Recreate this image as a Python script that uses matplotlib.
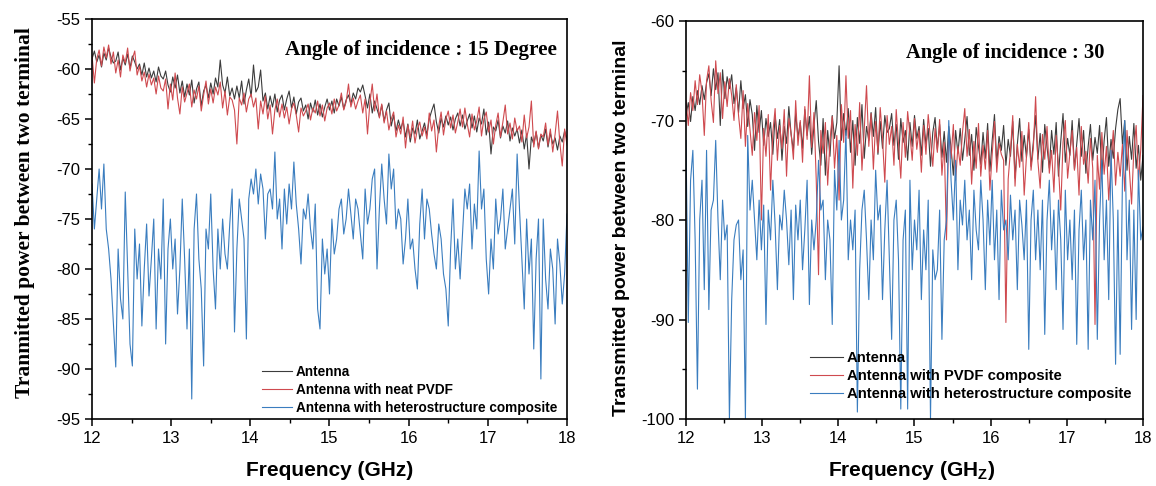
import numpy as np
import matplotlib
matplotlib.use("Agg")
import matplotlib.pyplot as plt

plt.rcParams["font.family"] = ["Liberation Sans", "DejaVu Sans"]
plt.rcParams["axes.unicode_minus"] = False
plt.rcParams["mathtext.fontset"] = "custom"
plt.rcParams["mathtext.rm"] = "Liberation Sans:bold"
plt.rcParams["mathtext.bf"] = "Liberation Sans:bold"

# frequency grid (GHz), same for both panels
freq = np.linspace(12, 18, 201)

# 15 degree panel
ant15 = [
    -59.0, -58.2, -59.3, -58.6, -59.8, -58.4, -59.1, -57.9, -58.8, -59.4,
    -59.2, -58.3, -60.1, -58.9, -59.6, -58.5, -59.9, -58.7, -59.3, -60.0,
    -59.5, -60.6, -59.4, -60.8, -59.9, -60.9, -60.2, -61.3, -59.8, -60.7,
    -61.0, -60.2, -61.6, -62.3, -60.8, -61.9, -60.6, -62.4, -61.2, -62.8,
    -61.5, -62.6, -61.1, -63.4, -62.0, -61.3, -63.7, -62.2, -61.6, -62.9,
    -61.4, -62.5, -60.9, -61.8, -59.1, -61.6, -62.4, -60.8, -62.7, -61.9,
    -63.0, -61.7, -62.9, -61.2, -63.5, -62.1, -61.0, -62.8, -59.6, -62.3,
    -61.8, -60.1, -63.2, -62.4, -64.0, -62.7, -63.8, -62.5, -64.3, -63.1,
    -62.6, -64.1, -63.0, -62.2, -63.9, -62.8, -64.5, -63.3, -62.9, -64.2,
    -63.6, -65.0, -63.4, -64.3, -63.1, -64.6, -63.5, -64.8, -63.8, -63.0,
    -64.1, -63.2, -64.4, -63.0, -63.7, -62.8, -64.0, -63.1, -62.6, -63.5,
    -62.4, -63.0, -61.9, -62.3, -61.6, -62.7, -63.9, -62.5, -64.4, -63.2,
    -64.0, -64.8, -63.6, -65.2, -64.1, -63.4, -65.7, -64.6, -66.2, -65.1,
    -66.0, -65.2, -66.8, -65.5, -67.3, -65.9, -66.5, -65.1, -67.0, -66.2,
    -65.4, -66.6, -65.0, -64.2, -63.5, -65.3, -66.4, -64.9, -65.8, -64.7,
    -65.6, -64.8, -66.1, -65.0, -64.4, -65.7, -64.6, -66.0, -65.2, -64.5,
    -65.9, -64.7, -66.3, -64.9, -65.5, -64.0, -66.6, -65.3, -68.5, -65.8,
    -66.2, -65.1, -66.9, -65.7, -66.4, -65.2, -67.2, -65.9, -66.7, -66.0,
    -67.4, -66.1, -68.0, -66.5, -70.0, -66.8, -67.5, -66.3, -67.9, -66.6,
    -67.2, -66.0, -67.8, -66.4, -67.5, -66.9, -68.1, -66.7, -67.3, -66.2,
    -67.0,
]
pvdf15 = [
    -58.6, -61.4, -59.0, -58.1, -59.7, -57.8, -58.9, -57.6, -59.5, -58.3,
    -60.4, -59.1, -60.8, -58.6, -59.4, -57.9, -60.2, -59.0, -58.2, -60.6,
    -59.7, -61.2, -60.3, -61.8, -60.5, -61.6, -60.9, -62.5, -60.7, -61.9,
    -62.2, -61.0, -64.0, -61.5, -63.1, -60.4, -62.9, -64.5, -61.8, -63.3,
    -62.4, -61.5, -63.8, -62.1, -63.0, -61.7, -64.2, -62.6, -61.2, -63.5,
    -62.0, -63.4, -61.8, -62.6, -61.3, -63.9, -62.2, -64.6, -62.8, -63.1,
    -64.1, -67.5, -62.9, -63.6, -62.4, -64.3, -63.0, -62.5, -63.8, -62.9,
    -66.0, -63.2, -64.5, -62.7, -65.0, -63.6, -66.5, -64.1, -63.0, -64.8,
    -63.5, -64.9, -63.8, -65.5, -64.0, -63.4, -64.6, -66.3, -63.9, -64.7,
    -64.2, -63.5, -65.1, -63.9, -64.4, -63.2, -64.7, -63.6, -65.2, -63.9,
    -63.4, -64.5, -63.0, -64.2, -63.6, -62.4, -64.1, -63.3, -61.5, -63.8,
    -62.9, -64.0, -63.2, -62.6, -64.4, -63.0, -66.5, -63.4, -61.5, -64.2,
    -62.5, -64.9, -63.5, -65.4, -64.2, -66.1, -65.0, -64.3, -66.8, -65.6,
    -66.5, -64.8, -67.9, -65.6, -66.9, -65.2, -67.4, -66.0, -65.3, -66.7,
    -65.8, -67.0, -64.4, -66.2, -65.1, -68.3, -65.7, -64.3, -66.6, -65.0,
    -64.2, -65.9, -64.6, -66.4, -65.3, -64.0, -65.8, -63.9, -65.5, -66.8,
    -64.5, -66.1, -65.2, -63.8, -66.7, -65.0, -64.3, -66.3, -65.1, -67.5,
    -65.6, -64.4, -66.8, -65.3, -63.6, -66.5, -65.4, -67.0, -64.9, -66.2,
    -65.7, -67.3, -64.6, -66.9, -65.8, -63.2, -67.8, -66.2, -68.0, -66.5,
    -66.8, -65.4, -67.6, -66.0, -68.3, -66.5, -64.2, -67.4, -69.7, -66.0,
    -67.6,
]
hetero15 = [
    -71.5, -76.0, -73.0, -70.0, -74.0, -69.5, -76.0, -78.0, -81.0, -85.3,
    -89.8, -78.0, -83.0, -85.0, -72.3, -80.0, -87.5, -89.7, -76.0, -81.0,
    -77.5, -85.7, -80.0, -75.5, -82.7, -79.0, -75.0, -86.0, -78.0, -81.0,
    -73.0, -87.5, -78.0, -75.0, -80.0, -77.0, -84.5, -80.0, -73.0, -79.0,
    -86.0, -78.0, -93.0, -76.0, -72.5, -79.0, -82.0, -89.7, -76.0, -78.0,
    -72.5, -80.0, -84.0, -76.0, -80.0, -75.0, -78.5, -80.0, -75.5, -72.0,
    -86.3, -78.0, -73.0, -75.0, -77.0, -87.0, -73.0, -71.0, -72.5, -70.0,
    -73.5, -70.5, -72.0, -77.0, -72.5, -72.0, -74.0, -68.3, -75.0, -73.0,
    -78.0, -72.0, -75.5, -71.5, -74.0, -69.3, -73.5, -76.0, -79.5, -74.0,
    -75.0, -72.5, -76.0, -78.0, -73.5, -84.0, -86.0, -77.0, -80.5, -78.0,
    -82.5, -75.0, -78.5, -77.0, -74.0, -73.0, -76.5, -75.0, -72.0, -74.5,
    -77.0, -73.0, -74.0, -76.5, -79.0, -72.0, -75.5, -74.0, -71.0, -70.0,
    -80.0, -74.0, -69.5, -73.0, -75.5, -68.5, -72.0, -70.0, -76.0, -74.0,
    -75.0, -79.5, -77.0, -73.0, -78.0, -77.0, -80.0, -82.0, -75.5, -72.0,
    -77.0, -73.0, -74.0, -76.5, -78.5, -80.0, -75.5, -77.0, -80.5, -82.0,
    -85.7, -78.0, -73.0, -80.0, -77.0, -81.0, -76.5, -72.0, -74.0, -71.5,
    -78.0, -73.5, -76.0, -68.2, -74.0, -72.0, -79.0, -82.5, -77.0, -80.0,
    -73.0, -76.5, -75.0, -72.0, -78.0, -76.0, -74.0, -72.0, -77.5, -68.5,
    -74.0, -79.0, -84.0, -75.0, -80.5, -77.0, -88.0, -79.0, -75.0, -91.0,
    -75.0, -81.0, -84.0, -78.0, -80.0, -85.5, -77.0, -79.5, -83.5, -80.5,
    -74.5,
]

# 30 degree panel
ant30 = [
    -69.5, -68.2, -70.1, -67.6, -69.0, -67.0, -68.4, -66.5, -67.9, -66.2,
    -65.3, -67.5, -64.8, -66.9, -65.2, -70.5, -64.9, -67.8, -65.6, -66.8,
    -65.4, -68.3, -66.7, -69.2, -66.0, -68.8, -67.4, -70.6, -67.9, -69.4,
    -73.0, -68.5, -71.2, -69.0, -72.5, -69.8, -71.6, -70.2, -73.4, -69.5,
    -71.8, -69.9, -74.0, -70.6, -72.3, -68.6, -71.4, -73.0, -69.3, -71.7,
    -70.2, -72.8, -68.9, -71.5, -69.6, -73.4, -70.5, -68.0, -72.1, -74.5,
    -69.8, -75.5, -71.0, -73.6, -69.5, -71.8, -70.2, -64.5, -72.0, -69.3,
    -71.5, -68.8, -73.2, -70.0, -74.5, -69.7, -72.3, -68.4, -73.8, -70.6,
    -72.0, -69.2, -71.6, -68.7, -73.4, -70.1, -72.8, -69.5, -71.2, -70.8,
    -69.3, -72.5, -70.4, -73.9, -69.8, -72.2, -71.0, -74.0, -70.2, -72.6,
    -69.5, -71.8, -70.6, -73.5, -69.9, -72.4, -70.8, -74.6, -71.2, -69.7,
    -72.9, -70.4, -73.7, -71.1, -74.2, -70.6, -72.8, -75.5, -71.0, -73.3,
    -70.8, -74.0, -71.9, -69.6, -73.5, -71.4, -75.0, -70.7, -72.6, -74.4,
    -71.2, -73.8, -70.3, -75.1, -72.0, -69.4, -74.3, -71.6, -73.0, -70.5,
    -74.5, -71.9, -73.6, -70.1, -75.8, -72.4, -69.8, -74.1, -71.5, -73.7,
    -70.9, -74.6, -72.2, -69.5, -73.9, -71.3, -75.2, -70.4, -72.7, -74.8,
    -71.0, -73.4, -70.2, -75.6, -72.1, -69.3, -74.2, -71.8, -73.5, -70.0,
    -74.9, -72.3, -69.8, -73.6, -71.0, -75.3, -72.6, -70.4, -74.0, -71.7,
    -73.3, -70.5, -75.4, -72.0, -69.7, -74.6, -71.9, -73.8, -70.8, -68.9,
    -67.8, -72.4, -70.0, -75.0, -71.6, -73.9, -70.3, -74.8, -72.5, -76.0,
    -73.5,
]
pvdf30 = [
    -68.0, -70.5, -67.2, -69.0, -66.0, -68.4, -65.4, -67.2, -71.5, -66.0,
    -64.5, -68.0, -70.2, -64.0, -67.3, -65.2, -69.8, -66.1, -68.6, -65.8,
    -67.5, -70.0, -66.4, -69.5, -71.8, -67.0, -72.6, -68.3, -70.9, -73.5,
    -69.2, -72.0, -68.5, -80.0, -70.8, -73.6, -69.4, -77.0, -71.2, -68.8,
    -74.0, -70.5, -72.8, -68.9, -75.6, -69.8, -71.3, -73.9, -68.0, -72.5,
    -70.0, -74.2, -68.6, -71.9, -65.5, -72.7, -69.2, -76.0, -85.5, -71.0,
    -73.3, -70.2, -76.5, -72.0, -69.6, -74.8, -71.5, -78.0, -68.4, -72.2,
    -65.5, -71.8, -69.0, -76.8, -70.4, -73.5, -68.2, -75.0, -70.9, -66.5,
    -72.6, -69.3, -74.9, -70.1, -73.2, -68.7, -71.8, -76.2, -69.5, -72.4,
    -70.6, -74.5, -68.9, -72.3, -75.8, -70.2, -73.7, -69.1, -71.4, -74.0,
    -69.8, -72.9, -71.0, -75.2, -70.5, -73.4, -69.4, -71.9, -74.6, -70.8,
    -73.2, -69.9, -75.5, -72.2, -82.0, -71.0, -73.8, -70.4, -76.0, -72.6,
    -74.5, -71.2, -68.8, -73.6, -70.9, -76.4, -72.1, -74.8, -70.3, -75.6,
    -72.5, -74.9, -71.0, -77.0, -73.4, -70.1, -75.2, -72.3, -73.4, -74.0,
    -90.3, -75.9, -73.0, -69.5, -76.6, -72.4, -74.7, -71.1, -77.5, -73.6,
    -70.2, -75.0, -72.8, -67.6, -74.1, -76.8, -71.4, -73.9, -70.6, -75.3,
    -73.0, -77.2, -71.5, -74.6, -79.0, -72.2, -70.0, -75.8, -73.3, -71.0,
    -75.0, -72.7, -77.5, -70.6, -74.4, -73.1, -76.3, -71.8, -74.8, -90.5,
    -73.5, -76.9, -71.2, -75.4, -72.6, -78.0, -74.1, -71.0, -76.5, -73.2,
    -75.6, -72.4, -77.1, -71.0, -74.8, -78.4, -72.9, -70.5, -76.0, -73.0,
    -67.5,
]
hetero30 = [
    -72.0, -90.3, -76.0, -73.0, -82.0, -97.0, -80.0, -76.0, -87.0, -73.0,
    -89.0, -79.0, -78.0, -72.0, -80.0, -86.0, -78.0, -82.0, -80.5, -100.0,
    -88.0, -82.0, -80.5, -80.0, -86.0, -83.0, -100.0, -71.5, -79.0, -76.0,
    -80.0, -84.0, -78.0, -83.0, -78.5, -90.5, -79.0, -82.0, -76.0, -80.5,
    -87.0, -79.5, -81.0, -77.0, -80.0, -84.5, -79.0, -88.0, -78.5, -82.0,
    -78.0, -85.0, -81.0, -76.0, -88.5, -80.0, -83.0, -80.0, -74.0, -79.0,
    -78.0, -86.0, -80.0, -82.0, -90.5, -75.0, -79.0, -72.0, -80.0, -78.0,
    -71.0, -84.0, -80.0, -83.0, -79.0, -99.3, -85.0, -79.0, -77.0, -82.0,
    -88.0, -80.0, -84.0, -75.0, -80.0, -78.5, -88.0, -81.0, -76.0, -84.0,
    -92.0, -80.0, -78.0, -84.0, -99.0, -82.0, -79.0, -99.0, -76.0, -85.0,
    -80.0, -83.0, -77.0, -88.0, -81.0, -85.0, -78.0, -100.0, -83.0, -86.0,
    -85.0, -79.0, -92.0, -82.0, -80.0, -70.0, -76.0, -80.0, -74.0, -85.0,
    -78.0, -80.5, -76.0, -82.0, -79.0, -86.0, -77.0, -81.0, -83.0, -76.0,
    -80.0, -87.0, -78.0, -82.5, -76.0, -84.0, -79.0, -88.0, -77.0, -81.0,
    -80.0, -84.0, -77.5, -82.0, -79.0, -87.0, -78.0, -80.5, -84.0, -78.0,
    -93.0, -80.0, -77.0, -84.0, -79.0, -85.0, -78.0, -91.5, -80.0, -76.0,
    -83.0, -79.0, -87.0, -78.0, -82.0, -91.0, -77.0, -84.0, -80.0, -86.0,
    -79.0, -92.5, -81.0, -77.0, -84.0, -80.0, -93.0, -78.0, -82.0, -76.0,
    -92.0, -80.0, -74.0, -84.0, -78.0, -88.0, -73.0, -80.0, -94.5, -79.0,
    -93.5, -76.0, -70.0, -84.0, -78.0, -91.0, -79.0, -90.0, -75.0, -82.0,
    -80.7,
]

c_ant = "#3c3c3c"
c_pvdf = "#cf4a4f"
c_het = "#3a7dbf"

fig = plt.figure(figsize=(11.56, 4.86), dpi=100)
ax1 = fig.add_axes([92 / 1156, 1 - 419 / 486, 475 / 1156, 400 / 486])
ax2 = fig.add_axes([686 / 1156, 1 - 419 / 486, 457 / 1156, 398 / 486])

ax1.plot(freq, ant15, color=c_ant, lw=0.8, label="Antenna")
ax1.plot(freq, pvdf15, color=c_pvdf, lw=0.8, label="Antenna with neat PVDF")
ax1.plot(freq, hetero15, color=c_het, lw=0.8, label="Antenna with heterostructure composite")

ax2.plot(freq, ant30, color=c_ant, lw=0.8, label="Antenna")
ax2.plot(freq, pvdf30, color=c_pvdf, lw=0.8, label="Antenna with PVDF composite")
ax2.plot(freq, hetero30, color=c_het, lw=0.8, label="Antenna with heterostructure composite")

ax1.set_xlim(12, 18)
ax1.set_ylim(-95, -55)
ax1.set_yticks(np.arange(-95, -54, 5))
ax1.set_yticks(np.arange(-92.5, -55, 5), minor=True)

ax2.set_xlim(12, 18)
ax2.set_ylim(-100, -60)
ax2.set_yticks(np.arange(-100, -59, 10))
ax2.set_yticks(np.arange(-95, -60, 10), minor=True)

for ax in (ax1, ax2):
    ax.set_xticks(np.arange(12, 18.1, 1))
    ax.set_xticks(np.arange(12.5, 18, 0.5), minor=True)
    ax.tick_params(which="major", direction="out", length=5, width=1.1, labelsize=12)
    ax.tick_params(which="minor", direction="out", length=3, width=1.0)
    for s in ax.spines.values():
        s.set_linewidth(1.2)

ax1.text(0.979, 0.91, "Angle of incidence : 15 Degree", transform=ax1.transAxes,
         ha="right", va="baseline", fontsize=15.2, fontweight="bold",
         family="Liberation Serif")
ax2.text(0.915, 0.907, "Angle of incidence : 30", transform=ax2.transAxes,
         ha="right", va="baseline", fontsize=14.8, fontweight="bold",
         family="Liberation Serif")

ax1.legend(loc="upper left", bbox_to_anchor=(0.358, 0.135), frameon=False,
           prop={"weight": "bold", "size": 9.8}, handlelength=2.2,
           handletextpad=0.3, labelspacing=0.3, borderpad=0, borderaxespad=0)
ax2.legend(loc="upper left", bbox_to_anchor=(0.271, 0.171), frameon=False,
           prop={"weight": "bold", "size": 10.7}, handlelength=2.2,
           handletextpad=0.27, labelspacing=0.27, borderpad=0, borderaxespad=0)

fig.text(25 / 1156, 1 - 213 / 486, "Tranmitted power between two terminal",
         rotation=90, ha="center", va="center", fontsize=15.5, fontweight="bold",
         family="Liberation Serif")
fig.text(622 / 1156, 1 - 228 / 486, "Transmitted power between two terminal",
         rotation=90, ha="center", va="center", fontsize=14, fontweight="bold",
         family="Liberation Sans")
fig.text(330 / 1156, 1 - 470 / 486, "Frequency (GHz)", ha="center", va="center",
         fontsize=15, fontweight="bold")
fig.text(912 / 1156, 1 - 470 / 486, r"Frequency (GH$_{\mathbf{Z}}$)", ha="center",
         va="center", fontsize=15, fontweight="bold")

fig.savefig("out.png", dpi=100)
